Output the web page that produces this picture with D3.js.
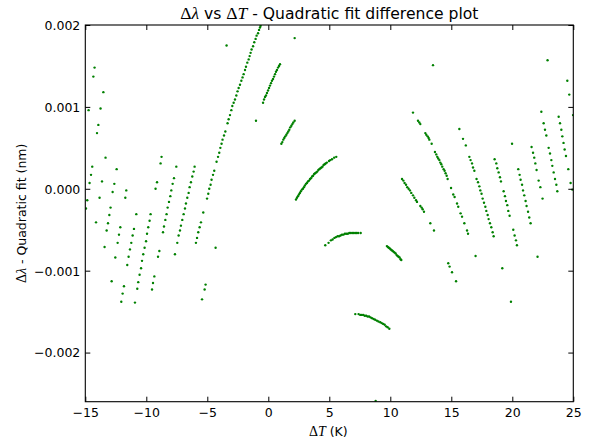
<!DOCTYPE html>
<html>
<head>
<meta charset="utf-8">
<script src="https://cdn.jsdelivr.net/npm/d3@7"></script>
<style>
  html, body { margin: 0; padding: 0; background: #ffffff; }
  svg { display: block; }
  .tick text { font-family: "DejaVu Sans", sans-serif; font-size: 12.5px; fill: #000; }
  .math { font-family: "Liberation Serif", "DejaVu Serif", serif; }
</style>
</head>
<body>
<svg id="chart" width="595" height="442"></svg>
<script>
// Residuals (nm) of the quadratic Δλ(ΔT) fit, one array per measurement run: [ΔT (K), Δλ (nm)]
const runScatterLeft = [
  [-14.24,0.00148],[-14.34,0.00137],[-13.52,0.00118],[-14.73,0.00096],[-13.75,0.00098],
  [-13.93,0.00078],[-14.04,0.00068],[-13.34,0.00038],[-14.43,0.00027],[-12.43,0.00024],
  [-14.53,0.00017],[-14.65,0.00007],[-13.63,0.00009],[-12.62,0.00006],[-12.76,-0.00004],
  [-11.64,-0.00002],[-14.84,-0.00014],[-13.83,-0.00011],[-11.72,-0.00011],[-14.94,-0.00024],
  [-12.93,-0.00023],[-13.03,-0.00032],[-10.82,-0.00031],[-14.12,-0.00041],[-13.14,-0.00042],
  [-12.13,-0.00047],[-11.01,-0.00049],[-13.25,-0.00051],[-12.24,-0.00056],[-11.12,-0.00057],
  [-12.35,-0.00066],[-11.23,-0.00066],[-13.42,-0.00071],[-11.34,-0.00074],[-12.54,-0.00084],
  [-11.45,-0.00083],[-11.56,-0.00093],[-12.84,-0.00113],[-11.83,-0.00119],[-11.94,-0.00128],
  [-12.05,-0.00138],[-10.93,-0.00139]
];
const runScatterMid = [
  [-8.75,0.00039],[-8.83,0.00031],[-9.12,0.00008],[-9.24,0.00000],[-9.65,-0.00031],
  [-9.73,-0.00039],[-9.84,-0.00047],[-9.94,-0.00055],[-10.02,-0.00064],[-10.14,-0.00072],
  [-10.25,-0.00080],[-10.35,-0.00088],[-10.43,-0.00097],[-10.55,-0.00105],[-10.66,-0.00114],
  [-10.74,-0.00122],[-9.34,-0.00107],[-9.45,-0.00115],[-9.53,-0.00123],[-8.93,-0.00076],
  [-9.04,-0.00083],[-8.55,-0.00046],[-8.63,-0.00053],
  [-7.54,0.00027],[-7.73,0.00013],[-7.84,0.00006],[-7.95,-0.00002],[-8.03,-0.00009],
  [-8.14,-0.00016],[-8.25,-0.00023],[-8.34,-0.00031],[-8.44,-0.00038],[-7.65,-0.00080]
];
const runScatterRight = [
  [-6.04,0.00027],[-6.12,0.00021],[-6.23,0.00015],[-6.34,0.00008],[-6.45,0.00002],
  [-6.53,-0.00005],[-6.64,-0.00011],[-6.75,-0.00018],[-6.83,-0.00024],[-6.94,-0.00031],
  [-7.05,-0.00038],[-7.16,-0.00045],[-7.24,-0.00051],[-7.35,-0.00057],[-7.46,-0.00066],
  [-5.33,-0.00029],[-5.52,-0.00041],[-5.63,-0.00047],[-5.74,-0.00053],[-5.84,-0.00060],
  [-5.93,-0.00066],[-4.32,-0.00072],[-5.14,-0.00117],[-5.22,-0.00123],[-5.43,-0.00135]
];
const runSteep = [
  [-5.02,-0.00012],[-4.92,-0.00006],[-4.84,0.00000],[-4.73,0.00005],[-4.65,0.00011],
  [-4.53,0.00017],[-4.43,0.00022],[-4.24,0.00033],[-4.12,0.00039],[-4.02,0.00044],
  [-3.93,0.00050],[-3.83,0.00055],[-3.75,0.00060],[-3.63,0.00065],[-3.52,0.00070],
  [-3.34,0.00080],[-3.25,0.00085],[-3.14,0.00090],[-3.03,0.00096],[-2.95,0.00101],
  [-2.84,0.00105],[-2.73,0.00109],[-2.62,0.00114],[-2.52,0.00119],[-2.43,0.00123],
  [-2.32,0.00127],[-2.21,0.00132],[-2.11,0.00136],[-2.02,0.00140],[-1.91,0.00145],
  [-1.83,0.00149],[-1.72,0.00154],[-1.61,0.00158],[-1.53,0.00162],[-1.45,0.00166],
  [-1.37,0.00170],[-1.25,0.00174],[-1.15,0.00179],[-1.04,0.00183],[-0.96,0.00187],
  [-0.84,0.00190],[-0.76,0.00194],[-0.68,0.00197],[-0.63,0.00199]
];
const runOutliers = [
  [-3.42,0.00175],[-1.01,0.00083],[2.16,0.00184],[13.50,0.00151],[8.80,-0.00259]
];
const runRiseA = [
  [-0.43,0.00105],[-0.35,0.00109],[-0.27,0.00112],[-0.19,0.00114],[-0.11,0.00117],
  [-0.02,0.00120],[0.06,0.00123],[0.14,0.00126],[0.22,0.00129],[0.30,0.00132],
  [0.39,0.00134],[0.47,0.00137],[0.55,0.00140],[0.63,0.00143],[0.71,0.00145],
  [0.80,0.00148],[0.88,0.00150],[0.96,0.00152]
];
const runRiseB = [
  [1.07,0.00055],[1.15,0.00057],[1.23,0.00060],[1.31,0.00062],[1.39,0.00064],
  [1.48,0.00066],[1.56,0.00068],[1.64,0.00070],[1.72,0.00072],[1.80,0.00075],
  [1.89,0.00077],[1.97,0.00079],[2.05,0.00081],[2.16,0.00083]
];
const runArcUpper = [
  [2.27,-0.00013],[2.35,-0.00011],[2.43,-0.00009],[2.51,-0.00007],[2.59,-0.00005],
  [2.67,-0.00003],[2.76,-0.00001],[2.84,0.00000],[2.92,0.00002],[3.00,0.00004],
  [3.09,0.00006],[3.17,0.00007],[3.25,0.00009],[3.34,0.00010],[3.42,0.00012],
  [3.50,0.00013],[3.59,0.00015],[3.67,0.00016],[3.76,0.00018],[3.84,0.00019],
  [3.93,0.00020],[4.01,0.00021],[4.10,0.00023],[4.18,0.00024],[4.27,0.00025],
  [4.36,0.00026],[4.44,0.00027],[4.53,0.00029],[4.62,0.00030],[4.70,0.00031],
  [4.80,0.00032],[4.98,0.00034],[5.08,0.00035],[5.22,0.00036],[5.40,0.00038],[5.57,0.00039]
];
const runArcMiddle = [
  [4.67,-0.00069],[4.94,-0.00066],[5.13,-0.00063],[5.27,-0.00062],[5.42,-0.00060],
  [5.55,-0.00059],[5.68,-0.00058],[5.80,-0.00058],[5.92,-0.00057],[6.04,-0.00056],
  [6.16,-0.00056],[6.28,-0.00055],[6.40,-0.00055],[6.52,-0.00055],[6.64,-0.00054],
  [6.76,-0.00054],[6.88,-0.00054],[7.00,-0.00054],[7.12,-0.00054],[7.24,-0.00054],
  [7.36,-0.00054],[7.57,-0.00054]
];
const runArcShort = [
  [9.72,-0.00070],[9.80,-0.00071],[9.88,-0.00072],[9.96,-0.00073],[10.04,-0.00074],
  [10.12,-0.00075],[10.20,-0.00076],[10.28,-0.00077],[10.36,-0.00078],[10.44,-0.00079],
  [10.52,-0.00081],[10.60,-0.00082],[10.68,-0.00083],[10.76,-0.00084],[10.84,-0.00086],[10.90,-0.00087]
];
const runArcLower = [
  [7.13,-0.00153],[7.40,-0.00153],[7.54,-0.00154],[7.66,-0.00154],[7.78,-0.00154],
  [7.90,-0.00155],[8.02,-0.00155],[8.14,-0.00156],[8.26,-0.00156],[8.38,-0.00157],
  [8.50,-0.00158],[8.63,-0.00159],[8.76,-0.00160],[8.90,-0.00161],[9.03,-0.00162],
  [9.18,-0.00163],[9.30,-0.00164],[9.42,-0.00165],[9.54,-0.00166],[9.66,-0.00168],
  [9.78,-0.00169],[9.92,-0.00171]
];
const runFallA = [
  [10.96,0.00012],[11.07,0.00010],[11.17,0.00007],[11.29,0.00005],[11.39,0.00002],
  [11.50,0.00000],[11.61,-0.00002],[11.72,-0.00005],[11.86,-0.00008],[11.97,-0.00011],
  [12.11,-0.00014],[12.19,-0.00016],[12.46,-0.00021],[12.57,-0.00023],[12.65,-0.00025],
  [12.76,-0.00028],[13.28,-0.00042],[13.58,-0.00051]
];
const runFallB = [
  [11.86,0.00093],[12.27,0.00083],[12.38,0.00081],[12.46,0.00079],[12.87,0.00068],
  [12.95,0.00066],[13.06,0.00064],[13.14,0.00062],[13.20,0.00060],[13.39,0.00055],
  [13.66,0.00045],[13.77,0.00042],[13.85,0.00039],[13.93,0.00037],[14.02,0.00035],
  [14.10,0.00032],[14.18,0.00030],[14.26,0.00027],[14.37,0.00024],[14.45,0.00022],
  [14.53,0.00019],[14.62,0.00016],[14.70,0.00012],[14.98,0.00001],[15.16,-0.00007],
  [15.27,-0.00010],[15.47,-0.00018],[15.57,-0.00022],[15.76,-0.00030],[15.88,-0.00034],
  [16.07,-0.00042],[16.29,-0.00051],[16.37,-0.00055],
  [14.75,-0.00091],[14.86,-0.00095],[15.06,-0.00102],[15.39,-0.00113],
  [15.66,0.00073],[15.96,0.00061],[16.19,0.00053]
];
const runFallC = [
  [16.48,0.00039],[16.58,0.00035],[16.70,0.00031],[16.78,0.00026],[16.89,0.00022],
  [17.07,0.00012],[17.19,0.00008],[17.30,0.00003],[17.38,-0.00002],[17.48,-0.00006],
  [17.57,-0.00012],[17.68,-0.00017],[17.79,-0.00022],[17.87,-0.00027],[17.98,-0.00032],
  [18.06,-0.00037],[18.17,-0.00042],[18.28,-0.00047],[18.39,-0.00053],[18.47,-0.00058],
  [16.99,-0.00082]
];
const runFallD = [
  [18.55,0.00036],[18.69,0.00031],[18.77,0.00025],[18.88,0.00020],[18.99,0.00014],
  [19.07,0.00009],[19.29,-0.00003],[19.40,-0.00009],[19.48,-0.00015],[19.59,-0.00020],
  [19.67,-0.00027],[19.78,-0.00033],[20.08,-0.00050],[20.19,-0.00057],[20.30,-0.00063],
  [20.38,-0.00069],[19.98,0.00055],[19.18,-0.00097],[19.89,-0.00138]
];
const runFallE = [
  [20.49,0.00024],[20.60,0.00017],[20.68,0.00011],[20.80,0.00005],[20.88,-0.00002],
  [20.98,-0.00008],[21.09,-0.00015],[21.17,-0.00021],[21.29,-0.00028],[21.39,-0.00035],
  [21.50,-0.00042],[22.07,-0.00083],
  [21.58,0.00051],[21.70,0.00044],[21.80,0.00038],[21.89,0.00031],[21.99,0.00023],
  [22.16,0.00010],[22.30,0.00002],[22.48,-0.00012]
];
const runFallF = [
  [22.38,0.00094],[22.57,0.00080],[22.68,0.00072],[22.79,0.00065],[22.98,0.00050],
  [23.09,0.00043],[23.20,0.00035],[23.28,0.00028],[23.39,0.00020],[23.50,0.00012],
  [23.61,0.00005],[23.69,-0.00003],[22.89,0.00157],
  [23.80,0.00088],[23.91,0.00080],[24.02,0.00072],[24.10,0.00064],[24.20,0.00056],
  [24.29,0.00048],[24.40,0.00040],[24.59,0.00024],[24.78,0.00007],[24.92,-0.00001],
  [24.51,0.00132],[24.67,0.00115],[24.98,0.00090]
];

const runs = [runScatterLeft, runScatterMid, runScatterRight, runSteep, runOutliers,
  runRiseA, runRiseB, runArcUpper, runArcMiddle, runArcShort, runArcLower,
  runFallA, runFallB, runFallC, runFallD, runFallE, runFallF];

const xTicks = [-15, -10, -5, 0, 5, 10, 15, 20, 25];
const yTicks = [-0.002, -0.001, 0.000, 0.001, 0.002];
const xDomain = [-15, 25];
const yDomain = [-0.0026, 0.002];

const margin = { left: 85.3, right: 573.3, top: 25, bottom: 401.7 };

const svg = d3.select("#chart");
const x = d3.scaleLinear().domain(xDomain).range([margin.left, margin.right]);
const y = d3.scaleLinear().domain(yDomain).range([margin.bottom, margin.top]);

const minus = s => s.replace("-", "\u2212");
const fmtX = d => minus(d3.format("d")(d));
const fmtY = d => minus(d3.format(".3f")(d));

// clip marks to the axes box
svg.append("clipPath").attr("id", "plotClip")
  .append("rect")
  .attr("x", margin.left).attr("y", margin.top)
  .attr("width", margin.right - margin.left)
  .attr("height", margin.bottom - margin.top);

// data points
svg.append("g").attr("clip-path", "url(#plotClip)")
  .selectAll("circle")
  .data(runs.flat())
  .join("circle")
  .attr("cx", d => x(d[0]))
  .attr("cy", d => y(d[1]))
  .attr("r", 1.2)
  .attr("fill", "#008000");

// axes with inward ticks on all four sides
const tickLen = 5;
const axB = svg.append("g").attr("transform", `translate(0,${margin.bottom})`)
  .call(d3.axisBottom(x).tickValues(xTicks).tickFormat(fmtX).tickSizeInner(-tickLen).tickSizeOuter(0).tickPadding(10));
const axT = svg.append("g").attr("transform", `translate(0,${margin.top})`)
  .call(d3.axisTop(x).tickValues(xTicks).tickFormat("").tickSizeInner(-tickLen).tickSizeOuter(0));
const axL = svg.append("g").attr("transform", `translate(${margin.left},0)`)
  .call(d3.axisLeft(y).tickValues(yTicks).tickFormat(fmtY).tickSizeInner(-tickLen).tickSizeOuter(0).tickPadding(10));
const axR = svg.append("g").attr("transform", `translate(${margin.right},0)`)
  .call(d3.axisRight(y).tickValues(yTicks).tickFormat("").tickSizeInner(-tickLen).tickSizeOuter(0));

[axB, axT, axL, axR].forEach(g => {
  g.select(".domain").remove();
  g.selectAll(".tick line").attr("stroke", "#000").attr("stroke-width", 1);
});
axB.selectAll(".tick text").attr("dy", "0.71em").attr("y", 6);
axL.selectAll(".tick text").attr("x", -5).attr("dy", "0.35em");

// frame
svg.append("rect")
  .attr("x", margin.left).attr("y", margin.top)
  .attr("width", margin.right - margin.left)
  .attr("height", margin.bottom - margin.top)
  .attr("fill", "none").attr("stroke", "#000").attr("stroke-width", 1.1);

const cx = (margin.left + margin.right) / 2;

// title
const title = svg.append("text")
  .attr("x", cx).attr("y", 18.5)
  .attr("text-anchor", "middle")
  .style("font-family", "'DejaVu Sans', sans-serif")
  .style("font-size", "15.6px");
title.append("tspan").attr("class", "math").style("font-size", "17.5px").text("\u0394");
title.append("tspan").attr("class", "math").style("font-size", "17.5px").style("font-style", "italic").text("\u03bb");
title.append("tspan").text(" vs ");
title.append("tspan").attr("class", "math").style("font-size", "17.5px").text("\u0394");
title.append("tspan").attr("class", "math").style("font-size", "17.5px").style("font-style", "italic").text("T");
title.append("tspan").text(" - Quadratic fit difference plot");

// x label
const xl = svg.append("text")
  .attr("x", cx - 1).attr("y", 436)
  .attr("text-anchor", "middle")
  .style("font-family", "'DejaVu Sans', sans-serif")
  .style("font-size", "12.5px");
xl.append("tspan").attr("class", "math").style("font-size", "14px").text("\u0394");
xl.append("tspan").attr("class", "math").style("font-size", "14px").style("font-style", "italic").text("T");
xl.append("tspan").text(" (K)");

// y label
const yl = svg.append("text")
  .attr("transform", `translate(26,${(margin.top + margin.bottom) / 2}) rotate(-90)`)
  .attr("text-anchor", "middle")
  .style("font-family", "'DejaVu Sans', sans-serif")
  .style("font-size", "12.5px");
yl.append("tspan").attr("class", "math").style("font-size", "14px").text("\u0394");
yl.append("tspan").attr("class", "math").style("font-size", "14px").style("font-style", "italic").text("\u03bb");
yl.append("tspan").text(" - Quadratic fit (nm)");
</script>
</body>
</html>
